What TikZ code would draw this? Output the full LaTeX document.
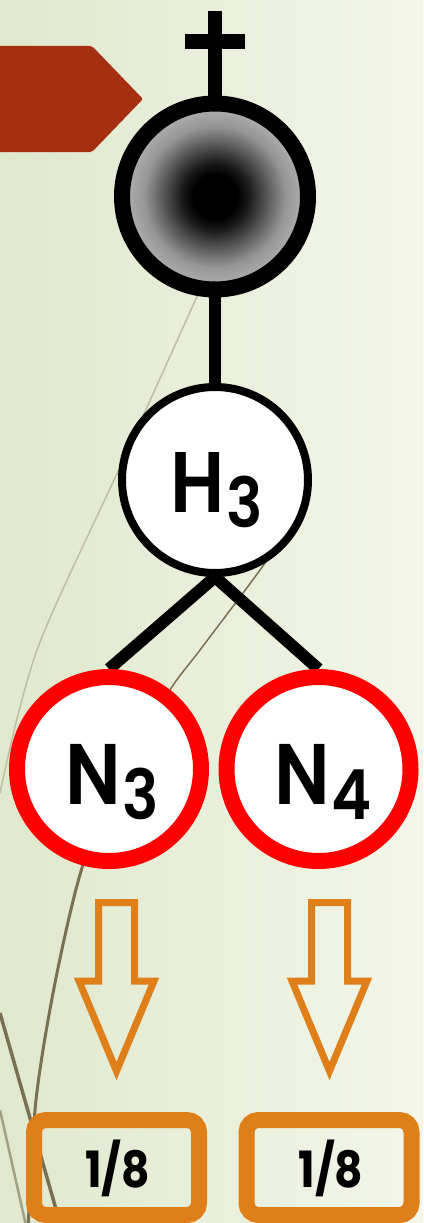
\documentclass[tikz,border=0pt]{standalone}
\usepackage{fontspec}
\setmainfont{Poppins}
\newfontfamily\semib{Poppins SemiBold}
\usetikzlibrary{calc}
\definecolor{bgL}{RGB}{224,232,205}
\definecolor{bgR}{RGB}{243,246,233}
\definecolor{brick}{RGB}{165,48,17}
\definecolor{orng}{RGB}{222,127,26}
\definecolor{redring}{RGB}{255,0,0}
\definecolor{curveL}{RGB}{190,190,165}
\definecolor{curveD}{RGB}{122,113,85}
\definecolor{gray170}{RGB}{170,170,170}
\pgfdeclareradialshading{blackgray}{\pgfpoint{0bp}{0bp}}{%
  color(0bp)=(black); color(6bp)=(black); color(9bp)=(black!85!gray170);
  color(15bp)=(black!41!gray170); color(19bp)=(black!12!gray170); color(23bp)=(gray170); color(50bp)=(gray170)}
\pgfdeclarelayer{back}
\pgfdeclarelayer{mid}
\pgfsetlayers{back,mid,main}
\tikzset{
  ring/.style={circle, inner sep=0pt, minimum size=184pt},
  bond/.style={line width=12pt, draw=black},
  fracbox/.style={draw=orng, line width=16pt, rounded corners=12pt, minimum width=165pt, minimum height=95pt, inner sep=0pt},
  bigtxt/.style={font=\semib\fontsize{86}{90}\selectfont, inner sep=0pt, anchor=base},
  fractxt/.style={font=\bfseries\fontsize{50}{55}\selectfont, inner sep=0pt, anchor=base},
  arrowline/.style={draw=orng, line width=7pt, miter limit=20},
  blockarrow/.pic={\path[arrowline] (-18,0) -- (18,0) -- (18,78.5) -- (37.5,78.5) -- (0,168.5) -- (-37.5,78.5) -- (-18,78.5) -- cycle;}
}
\newcommand{\subtxt}[1]{\raisebox{-15pt}{\fontsize{69}{70}\selectfont #1}}
\newcommand{\chem}[2]{\scalebox{0.88}[1]{#1\kern2pt\subtxt{#2}}}
\begin{document}
\begin{tikzpicture}[x=1pt,y=-1pt]
\useasboundingbox (0,0) rectangle (423,1223);
% nodes
\node[ring, minimum size=186pt, line width=16pt, draw=black, shading=blackgray] (top) at (215,196.5) {};
\node[ring, minimum size=186pt, line width=8pt, draw=black, fill=white] (h3) at (215,480) {};
\node[ring, line width=16pt, draw=redring, fill=white] (n3) at (109,769) {};
\node[ring, line width=16pt, draw=redring, fill=white] (n4) at (318.5,769) {};
\node[bigtxt] (h3t) at (217,512) {\chem{H}{3}};
\node[bigtxt] (n3t) at (112,804) {\chem{N}{3}};
\node[bigtxt] (n4t) at (323,804) {\chem{N}{4}};
\node[fracbox] (b1) at (116.5,1167.5) {};
\node[fracbox] (b2) at (329,1167.5) {};
\node[fractxt] (b1t) at (117.5,1187) {\scalebox{0.88}[1]{1/8}};
\node[fractxt] (b2t) at (331,1187) {\scalebox{0.88}[1]{1/8}};
\coordinate (crosstop) at (215,11);
\coordinate (crossL) at (185,41.5);
\coordinate (crossR) at (245,41.5);
\begin{pgfonlayer}{mid}
\draw[line width=14pt] (top.center) -- (crosstop);
\draw[line width=15pt] (crossL) -- (crossR);
\draw[bond] (top.center) -- (h3.center);
\draw[bond] (h3.south) -- (n3.north);
\draw[bond] (h3.south) -- (n4.north);
\end{pgfonlayer}
% arrows
\pic at (116.5,902.5) {blockarrow};
\pic at (329.5,902.5) {blockarrow};
% background
\begin{pgfonlayer}{back}
\shade[left color=bgL, right color=bgR] (0,0) rectangle (423,1223);
\fill[brick, rounded corners=2pt] (-5,46) -- (92,46) -- (143,99) -- (92,152) -- (-5,152) -- cycle;
\draw[curveL, line width=1.5pt] plot[smooth] coordinates {(210,270) (200,290) (120,467) (37,650) (0,793)};
\draw[curveD, line width=1.5pt] plot[smooth] coordinates {(290,520) (265,563) (200,650) (170,690) (120,775) (82,868)};
\draw[curveD, line width=3pt] plot[smooth] coordinates {(120,775) (82,868) (55,983) (36,1100) (28,1230)};
\draw[curveD, line width=3.5pt] (0,1013) -- (62,1230);
\draw[curveD!60!bgL, line width=2.5pt] (0,1110) -- (27,1230);
\end{pgfonlayer}
\end{tikzpicture}
\end{document}
